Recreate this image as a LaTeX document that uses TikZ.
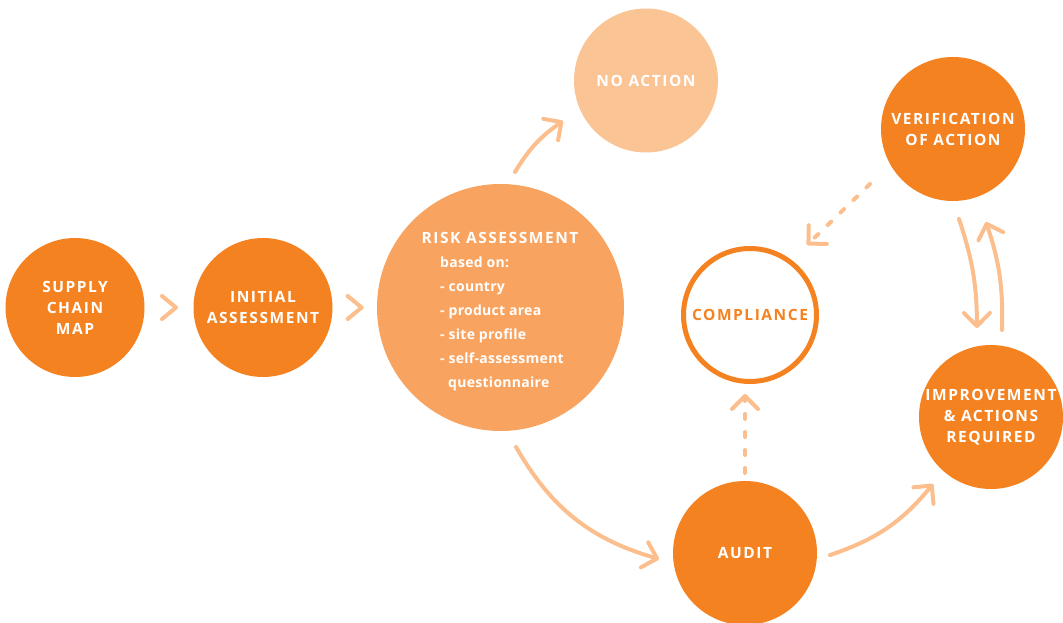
\documentclass[tikz,border=0pt]{standalone}
\usepackage{fontspec}
\setmainfont{Open Sans}
\newfontfamily\lab[LetterSpace=10]{Open Sans}
\newfontfamily\sublab[LetterSpace=2]{Open Sans}
\usetikzlibrary{arrows.meta,calc}
\definecolor{dorange}{HTML}{F58220}
\definecolor{morange}{HTML}{F8A460}
\definecolor{lorange}{HTML}{FBC495}
\definecolor{aorange}{HTML}{FBBE8C}
\begin{document}
\begin{tikzpicture}[x=1pt,y=-1pt,
  bub/.style={circle,inner sep=0pt,outer sep=0pt,minimum size=#1,text=white,align=center,font=\lab\bfseries\fontsize{15.5}{21}\selectfont},
  con/.style={draw=aorange,line width=4pt,line cap=round,line join=round,-{Straight Barb[length=13pt,width=26pt,round]}},
  dsh/.style={con,dash pattern=on 5pt off 13pt},
  chev/.style={draw=aorange,line width=4pt,line cap=round,line join=round},
  ttl/.style={anchor=base,inner sep=0pt,text=white,font=\lab\bfseries\fontsize{15.5}{21}\selectfont},
  itm/.style={anchor=base west,inner sep=0pt,text=white,font=\sublab\bfseries\fontsize{14}{24}\selectfont}]
\useasboundingbox (0,0) rectangle (1063,623);
% circles
\node[bub=139pt,fill=dorange] (supply) at (75,307.5) {SUPPLY\\CHAIN\\MAP};
\node[bub=139pt,fill=dorange] (initial) at (263,307.5) {INITIAL\\ASSESSMENT};
\node[circle,fill=morange,minimum size=247pt,inner sep=0pt] (risk) at (500.5,307.5) {};
\node[bub=144pt,fill=lorange] (noaction) at (646,80.5) {NO ACTION};
\node[bub=144pt,fill=dorange] (verif) at (953,129) {VERIFICATION\\OF ACTION};
\node[bub=133pt,draw=dorange,line width=5pt,text=dorange,fill=white] (compl) at (750,315) {COMPLIANCE};
\node[bub=144pt,fill=dorange] (improve) at (991,417) {IMPROVEMENT\\\& ACTIONS\\REQUIRED};
\node[bub=144pt,fill=dorange] (audit) at (745,553) {AUDIT};
% risk text
\node[ttl] (rtitle) at (500,243) {RISK ASSESSMENT};
\node[itm] (r1) at (440,267) {based on:};
\node[itm] (r2) at (440,291) {- country};
\node[itm] (r3) at (440,315) {- product area};
\node[itm] (r4) at (440,339) {- site profile};
\node[itm] (r5) at (440,363) {- self-assessment};
\node[itm] (r6) at (448,387) {questionnaire};
% chevrons
\coordinate (c1) at ($(supply.east)!0.5!(initial.west)$);
\coordinate (c2) at ($(initial.east)!0.5!(risk.west)$);
\draw[chev] ($(c1)+(-7,-11.5)$) -- ($(c1)+(7,0)$) -- ($(c1)+(-7,11.5)$);
\draw[chev] ($(c2)+(-7,-11.5)$) -- ($(c2)+(7,0)$) -- ($(c2)+(-7,11.5)$);
% connectors
\coordinate (a1s) at (515,172);
\coordinate (a1e) at (563,121);
\draw[con] (a1s) to[bend left=12] (a1e);
\coordinate (a2s) at (516,447);
\coordinate (a2e) at (659,559);
\draw[con] (a2s) to[bend right=22] (a2e);
\coordinate (a3s) at (830,555);
\coordinate (a3e) at (933,484);
\draw[con] (a3s) to[bend right=16] (a3e);
\coordinate (a4s) at (959,219);
\coordinate (a4e) at (977,328);
\draw[con] (a4s) to[bend left=9] (a4e);
\coordinate (a5s) at (1002,330);
\coordinate (a5e) at (986,222);
\draw[con] (a5s) to[bend right=10] (a5e);
\coordinate (a6s) at (870,184);
\coordinate (a6e) at (807,245);
\draw[dsh] (a6s) -- (a6e);
\coordinate (a7s) at (745,473);
\coordinate (a7e) at (745,394);
\draw[dsh] (a7s) -- (a7e);
\end{tikzpicture}
\end{document}
